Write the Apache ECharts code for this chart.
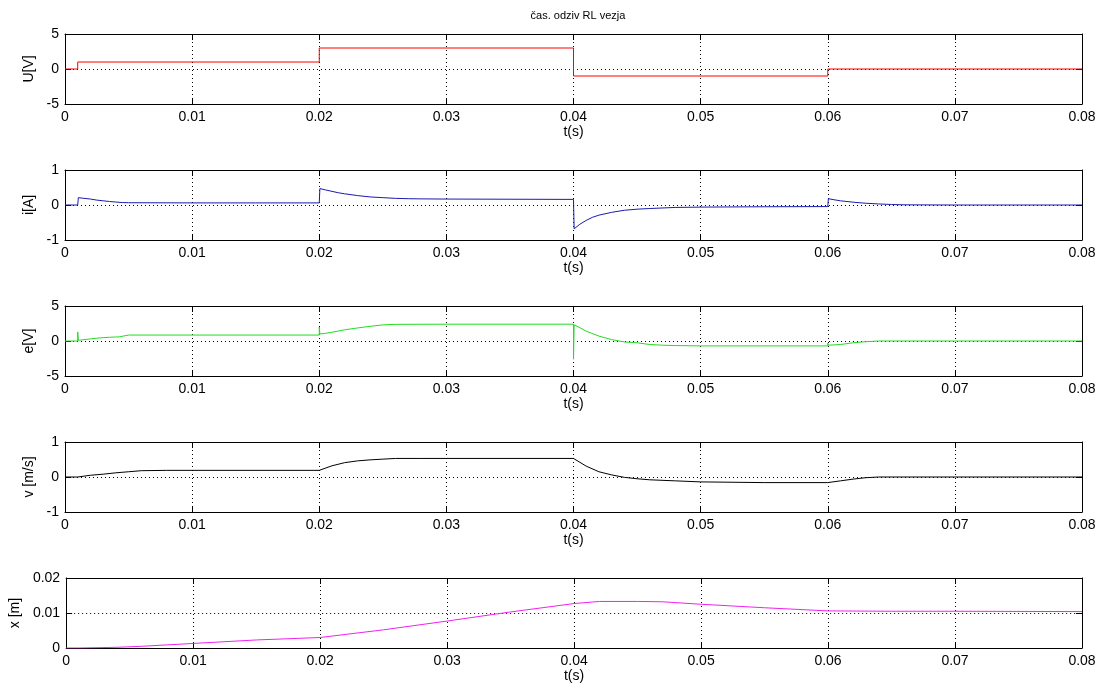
<!DOCTYPE html>
<html><head><meta charset="utf-8">
<script src="https://cdn.jsdelivr.net/npm/echarts@6/dist/echarts.min.js"></script>
<style>html,body{margin:0;background:#fff}#c{width:1109px;height:691px}</style>
</head><body><div id="c"></div>
<script>
// ---- data ----
const xTicks = [0, 0.01, 0.02, 0.03, 0.04, 0.05, 0.06, 0.07, 0.08];

const tU = [0, 0.001, 0.001, 0.02, 0.02, 0.04, 0.04, 0.06, 0.06, 0.08];
const uV = [0, 0, 1, 1, 3, 3, -1, -1, 0, 0];

const tI = [0, 0.001, 0.00105, 0.0015, 0.002, 0.0025, 0.003, 0.0035, 0.004, 0.0045, 0.005, 0.01, 0.015, 0.02,
  0.02005, 0.0205, 0.021, 0.0215, 0.022, 0.023, 0.024, 0.025, 0.026, 0.027, 0.028, 0.03, 0.035, 0.04,
  0.04005, 0.0405, 0.041, 0.0415, 0.042, 0.043, 0.044, 0.045, 0.046, 0.048, 0.05, 0.055, 0.06,
  0.06005, 0.0605, 0.061, 0.062, 0.063, 0.064, 0.065, 0.066, 0.07, 0.08];
const iA = [0, 0, 0.21, 0.19, 0.17, 0.14, 0.12, 0.1, 0.085, 0.07, 0.065, 0.06, 0.06, 0.06,
  0.47, 0.43, 0.39, 0.35, 0.32, 0.27, 0.23, 0.21, 0.19, 0.18, 0.175, 0.17, 0.165, 0.16,
  -0.68, -0.55, -0.44, -0.35, -0.29, -0.21, -0.15, -0.12, -0.1, -0.07, -0.06, -0.05, -0.045,
  0.18, 0.15, 0.12, 0.08, 0.05, 0.03, 0.015, 0.005, 0, 0];

const tE = [0, 0.001, 0.001, 0.00105, 0.0015, 0.002, 0.0025, 0.003, 0.0035, 0.004, 0.0043, 0.0043, 0.005, 0.01, 0.02,
  0.02, 0.02005, 0.0205, 0.021, 0.022, 0.023, 0.024, 0.025, 0.026, 0.03, 0.04,
  0.04, 0.04005, 0.0405, 0.041, 0.042, 0.043, 0.044, 0.045, 0.046, 0.047, 0.048, 0.05, 0.06,
  0.06, 0.06005, 0.061, 0.062, 0.063, 0.064, 0.07, 0.08];
const eV = [0, 0, 1.3, 0.1, 0.2, 0.3, 0.4, 0.48, 0.53, 0.57, 0.6, 0.85, 0.85, 0.85, 0.85,
  2.0, 1.0, 1.1, 1.25, 1.6, 1.86, 2.1, 2.3, 2.38, 2.4, 2.4,
  -2.6, 2.3, 1.9, 1.4, 0.7, 0.2, -0.14, -0.25, -0.5, -0.6, -0.65, -0.7, -0.7,
  -0.3, -0.6, -0.5, -0.25, -0.1, 0, 0, 0];

const tVel = [0, 0.001, 0.002, 0.003, 0.004, 0.005, 0.006, 0.008, 0.01, 0.02, 0.021, 0.022, 0.023, 0.024, 0.025, 0.026, 0.028, 0.03, 0.04,
  0.041, 0.042, 0.043, 0.044, 0.045, 0.046, 0.048, 0.05, 0.055, 0.06, 0.061, 0.062, 0.063, 0.064, 0.07, 0.08];
const vel = [0, 0, 0.05, 0.08, 0.12, 0.15, 0.18, 0.19, 0.19, 0.19, 0.32, 0.41, 0.46, 0.49, 0.51, 0.53, 0.53, 0.53, 0.53,
  0.31, 0.15, 0.06, -0.01, -0.05, -0.08, -0.11, -0.14, -0.16, -0.16, -0.11, -0.06, -0.02, 0, 0, 0];

const tX = [0, 0.001, 0.004, 0.006, 0.01, 0.015, 0.02, 0.025, 0.03, 0.035, 0.04, 0.042, 0.045, 0.047, 0.05, 0.055, 0.06, 0.065, 0.07, 0.08];
const xM = [0, 0, 0.0002, 0.0005, 0.0013, 0.0023, 0.003, 0.0052, 0.0077, 0.0103, 0.0127, 0.0133, 0.0133, 0.0132, 0.0125, 0.0115, 0.0106, 0.0105, 0.0105, 0.0104];

const yNames = ['U[V]', 'i[A]', 'e[V]', 'v [m/s]', 'x [m]'];
const yMin = [-5, -1, -5, -1, 0];
const yMax = [5, 1, 5, 1, 0.02];
const yStep = [5, 1, 5, 1, 0.01];
const colors = ['#ff0000', '#1a1ab0', '#22dd22', '#000000', '#ee22ee'];
const tSets = [tU, tI, tE, tVel, tX];
const vSets = [uV, iA, eV, vel, xM];

// ---- chart ----
const FONT = 'Liberation Sans, Arial, sans-serif';
const dotted = { type: [1, 3], color: '#000', width: 1 };
const grid = [], xAxis = [], yAxis = [], series = [];
for (let k = 0; k < 5; k++) {
  grid.push({ left: 65, right: 27, top: 34 + 136 * k, height: 70 });
  const xb = { gridIndex: k, type: 'value', min: xTicks[0], max: xTicks[xTicks.length - 1], interval: xTicks[1] - xTicks[0] };
  xAxis.push(Object.assign({}, xb, {
    position: 'bottom',
    axisLine: { show: true, onZero: false, lineStyle: { color: '#000', width: 1 } },
    axisTick: { show: true, inside: true, length: 6, lineStyle: { color: '#000' } },
    splitLine: { show: true, lineStyle: dotted },
    axisLabel: { color: '#000', fontSize: 14, fontFamily: FONT, margin: 6 },
    name: 't(s)', nameLocation: 'middle', nameGap: 20,
    nameTextStyle: { color: '#000', fontSize: 14, fontFamily: FONT }
  }));
  xAxis.push(Object.assign({}, xb, {
    position: 'top',
    axisLine: { show: true, onZero: false, lineStyle: { color: '#000', width: 1 } },
    axisTick: { show: true, inside: true, length: 6, lineStyle: { color: '#000' } },
    splitLine: { show: false }, axisLabel: { show: false }
  }));
  const yb = { gridIndex: k, type: 'value', min: yMin[k], max: yMax[k], interval: yStep[k] };
  yAxis.push(Object.assign({}, yb, {
    position: 'left',
    axisLine: { show: true, onZero: false, lineStyle: { color: '#000', width: 1 } },
    axisTick: { show: true, inside: true, length: 6, lineStyle: { color: '#000' } },
    splitLine: { show: true, lineStyle: dotted },
    axisLabel: { color: '#000', fontSize: 14, fontFamily: FONT, margin: 6 },
    name: yNames[k], nameLocation: 'middle', nameGap: k === 4 ? 38 : 17,
    nameTextStyle: { color: '#000', fontSize: 14, fontFamily: FONT }
  }));
  yAxis.push(Object.assign({}, yb, {
    position: 'right',
    axisLine: { show: true, onZero: false, lineStyle: { color: '#000', width: 1 } },
    axisTick: { show: true, inside: true, length: 6, lineStyle: { color: '#000' } },
    splitLine: { show: false }, axisLabel: { show: false }
  }));
  series.push({
    type: 'line', xAxisIndex: 2 * k, yAxisIndex: 2 * k,
    data: tSets[k].map((t, j) => [t, vSets[k][j]]),
    showSymbol: false, symbol: 'none',
    lineStyle: { color: colors[k], width: 1 }, z: 5
  });
}

const chart = echarts.init(document.getElementById('c'), null, { renderer: 'canvas' });
chart.setOption({
  animation: false,
  backgroundColor: '#fff',
  title: {
    text: 'čas. odziv RL vezja', left: 573, top: 5, textAlign: 'center',
    textStyle: { fontSize: 11, fontWeight: 'normal', color: '#000', fontFamily: FONT }
  },
  grid, xAxis, yAxis, series
});
</script></body></html>
